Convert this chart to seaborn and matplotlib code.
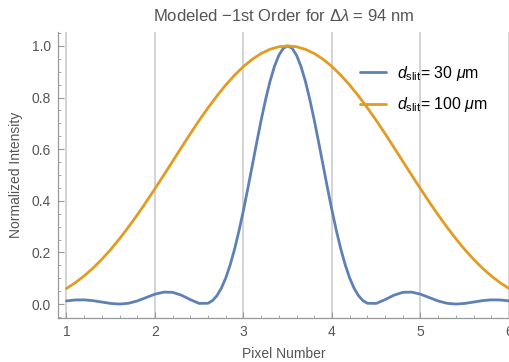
import numpy as np
import pandas as pd
import matplotlib
matplotlib.use("Agg")
import matplotlib.pyplot as plt
import seaborn as sns
from matplotlib.ticker import MultipleLocator

# ---- data ----
blue_d = [0.0, 0.05, 0.1, 0.15, 0.2, 0.25, 0.3, 0.35, 0.4, 0.45, 0.5, 0.55, 0.6, 0.65,
          0.7, 0.75, 0.8, 0.85, 0.9, 1.0, 1.1, 1.2, 1.3, 1.4, 1.5, 1.6, 1.7, 1.8, 1.9,
          2.0, 2.1, 2.2, 2.3, 2.4, 2.5]
blue_v = [1.0, 0.9909, 0.9641, 0.9205, 0.8627, 0.7920, 0.7125, 0.6261, 0.5373, 0.4484,
          0.3633, 0.2842, 0.2131, 0.1518, 0.1009, 0.0613, 0.0323, 0.0133, 0.0031, 0.0025,
          0.0171, 0.0343, 0.0454, 0.0463, 0.0382, 0.0251, 0.0119, 0.0030, 0.0, 0.0024,
          0.0078, 0.0132, 0.0163, 0.0158, 0.0123]
orange_d = [0.0, 0.1, 0.2, 0.3, 0.4, 0.5, 0.6, 0.7, 0.8, 0.9, 1.0, 1.1, 1.2, 1.3, 1.4,
            1.5, 1.6, 1.7, 1.8, 1.9, 2.0, 2.1, 2.2, 2.3, 2.4, 2.5]
orange_v = [1.0, 0.9967, 0.9869, 0.9707, 0.9483, 0.9203, 0.8868, 0.8487, 0.8061, 0.7602,
            0.7116, 0.6601, 0.6069, 0.5532, 0.4997, 0.4469, 0.3951, 0.3451, 0.2977,
            0.2529, 0.2113, 0.1733, 0.1391, 0.1089, 0.0826, 0.0603]
center = 3.5
labels = [r"$d_{\mathrm{slit}}$= 30 $\mu$m", r"$d_{\mathrm{slit}}$= 100 $\mu$m"]
xticks = [1, 2, 3, 4, 5, 6]
yticks = [0.0, 0.2, 0.4, 0.6, 0.8, 1.0]
title = r"Modeled −1st Order for Δ$\lambda$ = 94 nm"

def mirror(d, v):
    d = np.asarray(d); v = np.asarray(v)
    xs = np.concatenate([center - d[::-1], center + d[1:]])
    ys = np.concatenate([v[::-1], v[1:]])
    return xs, ys

bx, by = mirror(blue_d, blue_v)
ox, oy = mirror(orange_d, orange_v)
df = pd.concat([
    pd.DataFrame({"x": bx, "y": by, "series": labels[0]}),
    pd.DataFrame({"x": ox, "y": oy, "series": labels[1]}),
], ignore_index=True)

sns.set_theme(style="white")
plt.rcParams["font.family"] = ["Liberation Sans", "DejaVu Sans"]
plt.rcParams["mathtext.fontset"] = "custom"
plt.rcParams["mathtext.rm"] = "Liberation Sans"
plt.rcParams["mathtext.it"] = "Liberation Sans:italic"

txt = "#555555"
fig = plt.figure(figsize=(5.1, 3.62), dpi=100)
ax = fig.add_axes([58/510, 1 - 318/362, 451/510, (318 - 32)/362])

for xv in xticks:
    ax.axvline(xv, color="#d0d0d0", lw=1.3, zorder=0)

sns.lineplot(data=df, x="x", y="y", hue="series", sort=False,
             palette=["#5E81B5", "#E19C24"], linewidth=2.0, ax=ax, legend=True)

ax.set_xlim(0.905, 6.0)
ax.set_ylim(-0.054, 1.054)
ax.set_xticks(xticks)
ax.set_yticks(yticks)
ax.set_xticklabels([str(t) for t in xticks])
ax.set_yticklabels([f"{t:.1f}" for t in yticks])
ax.xaxis.set_minor_locator(MultipleLocator(0.2))
ax.yaxis.set_minor_locator(MultipleLocator(0.05))
ax.tick_params(axis="both", which="major", direction="in", length=4, width=0.8,
               color="#999999", labelsize=10, labelcolor=txt, pad=5)
ax.tick_params(axis="both", which="minor", direction="in", length=2, width=0.6,
               color="#999999")
ax.tick_params(axis="x", which="both", bottom=True)
ax.tick_params(axis="y", which="both", left=True)

for s in ["top", "right"]:
    ax.spines[s].set_visible(False)
for s in ["left", "bottom"]:
    ax.spines[s].set_color("#999999")
    ax.spines[s].set_linewidth(0.9)

ax.set_xlabel("Pixel Number", fontsize=10, color=txt, labelpad=6)
ax.set_ylabel("Normalized Intensity", fontsize=10, color=txt, labelpad=6)
ax.set_title(title, fontsize=12, color=txt, pad=8)

leg = ax.legend(loc="upper right", bbox_to_anchor=(0.985, 0.94), frameon=False,
                fontsize=11.5, handlelength=1.6, handletextpad=0.7, labelspacing=0.8)
for t in leg.get_texts():
    t.set_color("black")

fig.savefig("out.png", dpi=100)
